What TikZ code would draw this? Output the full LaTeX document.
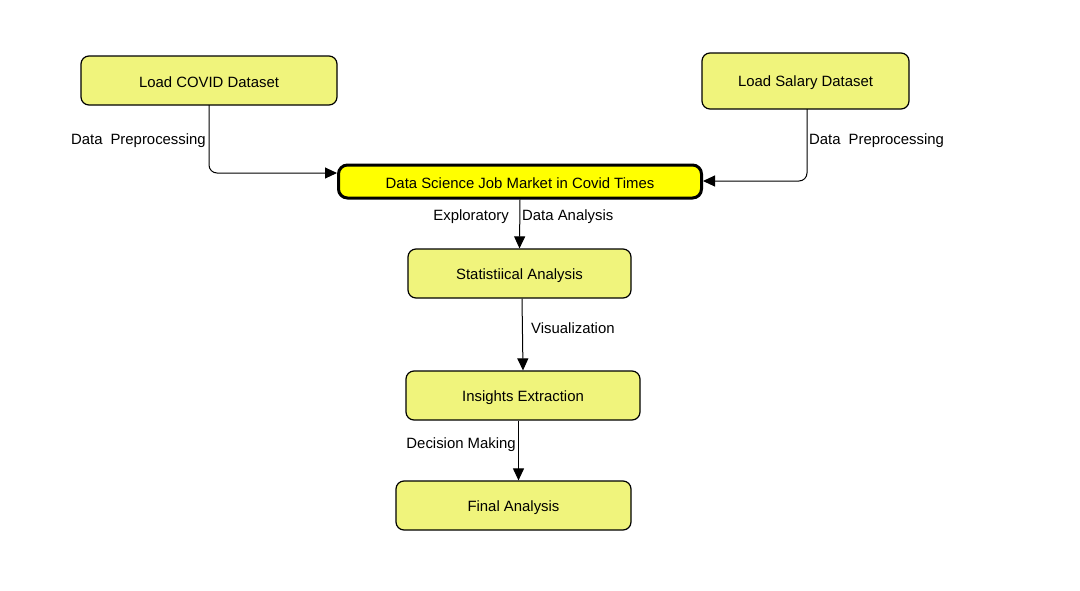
\documentclass[tikz,border=0pt]{standalone}
\usepackage{fontspec}
\setmainfont{Liberation Sans}
\usetikzlibrary{arrows.meta}
\definecolor{boxfill}{HTML}{F0F47C}
\definecolor{mainfill}{HTML}{FFFF00}
\newcommand{\lowr}[1]{\raisebox{-1.8pt}[\height][\depth]{#1}}
\tikzset{
  procbox/.style={draw=black, line width=1.2pt, fill=boxfill, rounded corners=8pt,
    inner sep=0pt, align=center, font=\fontsize{14.9}{17}\selectfont},
  mainbox/.style={procbox, fill=mainfill, line width=3pt, rounded corners=9pt},
  conn/.style={draw=black, line width=1pt, -{Triangle[length=12pt,width=11pt]}, rounded corners=8pt},
  elabel/.style={inner sep=0pt, font=\fontsize{14.9}{17}\selectfont, text=black}
}
\begin{document}
\begin{tikzpicture}[x=1pt,y=-1pt]
\useasboundingbox (0,0) rectangle (1080,590);
\node[procbox, minimum width=256pt, minimum height=49pt] (covid) at (209,80.5) {\lowr{Load COVID Dataset}};
\node[procbox, minimum width=207pt, minimum height=56pt] (salary) at (805.5,81) {\lowr{Load Salary Dataset}};
\node[mainbox, minimum width=363pt, minimum height=33pt] (main) at (520,181.5) {\lowr{Data Science Job Market in Covid Times}};
\node[procbox, minimum width=223pt, minimum height=49pt] (stat) at (519.5,273.5) {\lowr{Statistiical Analysis}};
\node[procbox, minimum width=234pt, minimum height=49pt] (ins) at (523,395.5) {\lowr{Insights Extraction}};
\node[procbox, minimum width=235pt, minimum height=49pt] (final) at (513.5,505.5) {\lowr{Final Analysis}};

\coordinate (covidout) at (209,105);
\coordinate (covidin) at (337,173);
\coordinate (salout) at (807,109);
\coordinate (salin) at (703,181);
\draw[conn] (covidout) |- (covidin);
\draw[conn] (salout) |- (salin);
\draw[conn] (main.south) -- (stat.north);
\draw[conn] ([xshift=2.5pt]stat.south) -- (ins.north);
\draw[conn] ([xshift=5pt]ins.south -| final.south) -- ([xshift=5pt]final.north);

\node[elabel, anchor=east] (l1) at (206,141) {Data\hspace{8pt}Preprocessing};
\node[elabel, anchor=west] (l2) at (809,141) {Data\hspace{8pt}Preprocessing};
\node[elabel, anchor=east] (l3a) at (509,217) {Exploratory};
\node[elabel, anchor=west] (l3b) at (522,217) {Data Analysis};
\node[elabel, anchor=west] (l4) at (531,328) {Visualization};
\node[elabel, anchor=east] (l5) at (516,445) {Decision Making};
\end{tikzpicture}
\end{document}
